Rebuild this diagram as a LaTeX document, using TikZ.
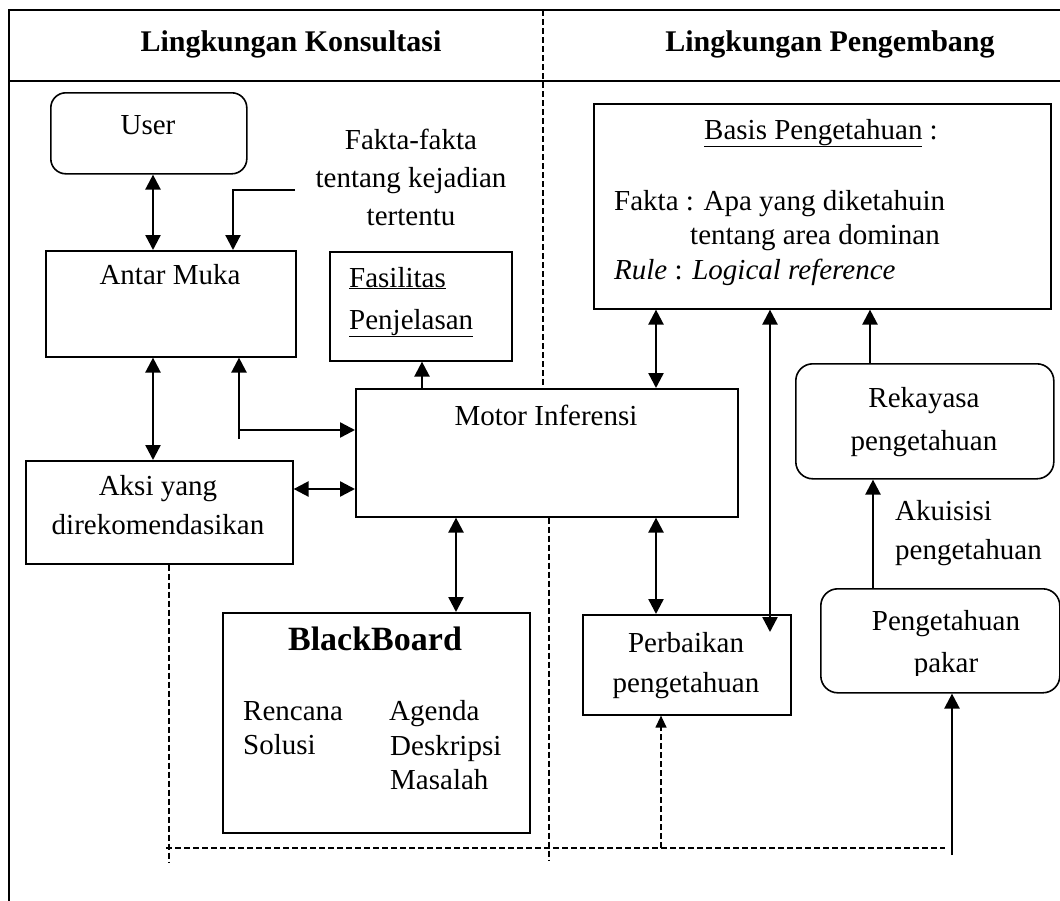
\documentclass[tikz,border=0pt]{standalone}
\usepackage{fontspec}
\setmainfont{Liberation Serif}
\usetikzlibrary{arrows.meta,calc}
\begin{document}
\begin{tikzpicture}[x=1pt,y=-1pt,
  txt/.style={font=\fontsize{29}{35}\selectfont, inner sep=0pt, text height=20pt, text depth=6pt},
  box/.style={draw, line width=1.6pt, inner sep=0pt, anchor=north west},
  rbox/.style={box, rounded corners=15pt},
  tip/.style={Triangle[length=15pt,width=15pt]},
  arr/.style={line width=2.4pt, -{Triangle[length=15pt,width=15pt]}},
  dbl/.style={line width=2.4pt, {Triangle[length=15pt,width=15pt]}-{Triangle[length=15pt,width=15pt]}},
  dsh/.style={line width=1.6pt, dash pattern=on 6pt off 3pt},
  frame/.style={line width=2pt}]
\useasboundingbox (0,0) rectangle (1060,900);
\fill[white] (0,0) rectangle (1060,900);

% frame
\coordinate (tl) at (9,10);
\coordinate (tr) at (1064,10);
\coordinate (hl) at (9,81);
\coordinate (hr) at (1064,81);
\coordinate (bl) at (9,904);
\draw[frame] (tr) -- (tl) -- (bl);
\draw[frame] (hl) -- (hr);
\node[txt, font=\fontsize{30}{36}\selectfont\bfseries] (h1) at (291,44) {Lingkungan Konsultasi};
\node[txt, font=\fontsize{30}{36}\selectfont\bfseries] (h2) at (830,44) {Lingkungan Pengembang};

% boxes
\node[rbox, minimum width=196pt, minimum height=81pt] (user) at (50,92) {};
\node[box, minimum width=250pt, minimum height=106pt] (antar) at (45,250) {};
\node[box, minimum width=182pt, minimum height=109pt] (fasil) at (329,251) {};
\node[box, minimum width=382pt, minimum height=128pt] (motor) at (355,388) {};
\node[box, minimum width=267pt, minimum height=103pt] (aksi) at (25,460) {};
\node[box, minimum width=307pt, minimum height=220pt] (bb) at (222,612) {};
\node[box, minimum width=457pt, minimum height=205pt] (basis) at (593,103) {};
\node[rbox, rounded corners=17pt, minimum width=258pt, minimum height=115pt] (reka) at (795,363) {};
\node[box, minimum width=208pt, minimum height=100pt] (perb) at (582,614) {};
\node[rbox, rounded corners=17pt, minimum width=239pt, minimum height=104pt] (pakar) at (820,588) {};

% texts
\node[txt] (tUser) at (148,127) {User};
\node[txt] (fk1) at (411,142) {Fakta-fakta};
\node[txt] (fk2) at (411,180) {tentang kejadian};
\node[txt] (fk3) at (411,218) {tertentu};
\node[txt] (tAntar) at (170,277) {Antar Muka};
\node[txt, anchor=west] (fas1) at (349,280) {\underline{Fasilitas}};
\node[txt, anchor=west] (fas2) at (349,322) {\underline{Penjelasan}};
\node[txt] (tMotor) at (546,418) {Motor Inferensi};
\node[txt] (ak1) at (158,488) {Aksi yang};
\node[txt] (ak2) at (158,527) {direkomendasikan};
\node[txt, font=\fontsize{34}{40}\selectfont\bfseries] (tBB) at (375,643) {BlackBoard};
\node[txt, anchor=west] (bb1) at (243,713) {Rencana};
\node[txt, anchor=west] (bb2) at (243,747) {Solusi};
\node[txt, anchor=west] (bb3) at (389,713) {Agenda};
\node[txt, anchor=west] (bb4) at (390,748) {Deskripsi};
\node[txt, anchor=west] (bb5) at (390,782) {Masalah};
\node[txt] (bs1) at (821,132) {\underline{Basis Pengetahuan} :};
\node[txt, anchor=west] (bs2) at (614,203) {Fakta : Apa yang diketahuin};
\node[txt, anchor=west] (bs3) at (690,237) {tentang area dominan};
\node[txt, anchor=west] (bs4) at (614,272) {\textit{Rule} : \textit{Logical reference}};
\node[txt] (rk1) at (924,400) {Rekayasa};
\node[txt] (rk2) at (924,443) {pengetahuan};
\node[txt, anchor=west] (aq1) at (895,513) {Akuisisi};
\node[txt, anchor=west] (aq2) at (895,552) {pengetahuan};
\node[txt] (pb1) at (686,645) {Perbaikan};
\node[txt] (pb2) at (686,685) {pengetahuan};
\node[txt] (pk1) at (946,623) {Pengetahuan};
\begin{scope}
\clip (820,588) rectangle (1060,675);
\node[txt] (pk2) at (946,665) {pakar};
\end{scope}

% helper coordinates
\coordinate (x153) at (153,0);
\coordinate (x233) at (233,0);
\coordinate (x422) at (422,0);
\coordinate (x456) at (456,0);
\coordinate (x656) at (656,0);
\coordinate (x870) at (870,0);
\coordinate (x873) at (873,0);
\coordinate (y489) at (0,489);
\coordinate (fk) at (295,190);
\coordinate (lt) at (239,439);
\coordinate (j1) at (239,430);
\coordinate (bp) at (770,632);
\coordinate (b1) at (952,855);

% connectors
\draw[dbl] (x153 |- user.south) -- (x153 |- antar.north);
\draw[line width=2.2pt, -{Triangle[length=15pt,width=15pt]}] (fk) -| (x233 |- antar.north);
\draw[dbl] (x153 |- antar.south) -- (x153 |- aksi.north);
\draw[arr] (lt) -- (lt |- antar.south);
\draw[arr] (j1) -- (j1 -| motor.west);
\draw[dbl] (aksi.east |- y489) -- (motor.west |- y489);
\draw[arr] (x422 |- motor.north) -- (x422 |- fasil.south);
\draw[dbl] (x456 |- motor.south) -- (x456 |- bb.north);
\draw[dbl] (x656 |- motor.north) -- (x656 |- basis.south);
\draw[dbl] (x656 |- motor.south) -- (x656 |- perb.north);
\draw[dbl] (bp |- basis.south) -- (bp);
\draw[arr] (x870 |- reka.north) -- (x870 |- basis.south);
\draw[arr] (x873 |- pakar.north) -- (x873 |- reka.south);
\draw[arr] (b1) -- (b1 |- pakar.south);

% dashed lines
\coordinate (dv) at (543,10);
\draw[dsh, line width=1.3pt] (dv) -- (dv |- motor.north);
\coordinate (d2) at (549,860);
\draw[dsh, line width=1.3pt] (d2 |- motor.south) -- (d2);
\coordinate (d1) at (169,863);
\draw[dsh, line width=1.3pt] (d1 |- aksi.south) -- (d1);
\coordinate (hA) at (166,848);
\coordinate (hB) at (945,848);
\draw[dsh, line width=2pt] (hA) -- (hB);
\coordinate (d3) at (661,848);
\draw[dsh, line width=1.3pt, -{Triangle[length=12pt,width=11pt]}] (d3) -- (d3 |- perb.south);
\end{tikzpicture}
\end{document}
